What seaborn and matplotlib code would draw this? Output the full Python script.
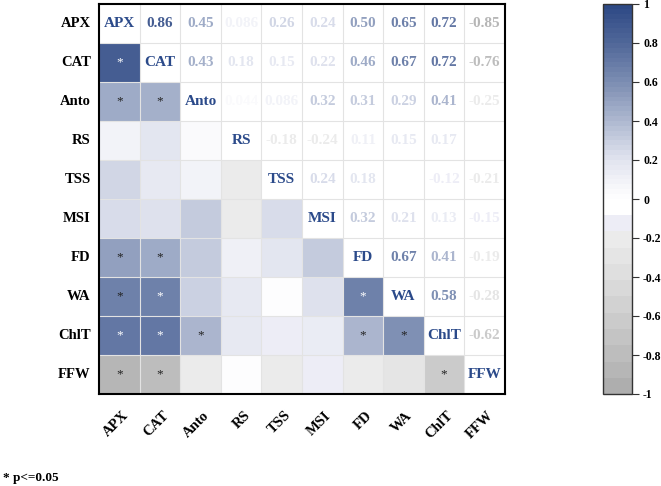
#!/usr/bin/env python3
"""
Correlation matrix (corrplot style): coloured lower triangle with
significance stars, coefficients in the upper triangle.
"""

import numpy as np
import pandas as pd
import matplotlib
matplotlib.use("Agg")
import matplotlib.pyplot as plt
import seaborn as sns
from matplotlib.colors import ListedColormap, LinearSegmentedColormap
from matplotlib.transforms import ScaledTranslation

plt.rcParams["font.family"] = ["Liberation Serif", "DejaVu Serif"]

# —————————————————————————————————————————————————————————————————————
# Data
# —————————————————————————————————————————————————————————————————————
variables = ["APX", "CAT", "Anto", "RS", "TSS", "MSI", "FD", "WA", "ChlT", "FFW"]

# upper triangle, row by row (cells right of the diagonal)
upper_rows = [
    [0.86, 0.45, 0.086, 0.26, 0.24, 0.50, 0.65, 0.72, -0.85],
    [0.43, 0.18, 0.15, 0.22, 0.46, 0.67, 0.72, -0.76],
    [0.044, 0.086, 0.32, 0.31, 0.29, 0.41, -0.25],
    [-0.18, -0.24, 0.11, 0.15, 0.17, 0.0],
    [0.24, 0.18, 0.0, -0.12, -0.21],
    [0.32, 0.21, 0.13, -0.15],
    [0.67, 0.41, -0.19],
    [0.58, -0.28],
    [-0.62],
]

# (row, column) pairs of the lower triangle with p <= 0.05
significant = [
    ("CAT", "APX"), ("Anto", "APX"), ("Anto", "CAT"),
    ("FD", "APX"), ("FD", "CAT"),
    ("WA", "APX"), ("WA", "CAT"), ("WA", "FD"),
    ("ChlT", "APX"), ("ChlT", "CAT"), ("ChlT", "Anto"), ("ChlT", "FD"), ("ChlT", "WA"),
    ("FFW", "APX"), ("FFW", "CAT"), ("FFW", "ChlT"),
]

cbar_ticks = [1, 0.8, 0.6, 0.4, 0.2, 0, -0.2, -0.4, -0.6, -0.8, -1]
cbar_ticklabels = ["1", "0.8", "0.6", "0.4", "0.2", "0", "-0.2", "-0.4", "-0.6", "-0.8", "-1"]

# —————————————————————————————————————————————————————————————————————
# Colour map: 12 grey steps below zero, 40 blue steps above
# —————————————————————————————————————————————————————————————————————
neg_steps = ["#aeaeae", "#b6b6b6", "#bdbdbd", "#c4c4c4", "#cbcbcb", "#d2d2d2",
             "#d9d9d9", "#dfdfdf", "#e5e5e5", "#ebebeb", "#ededf6", "#ffffff"]
pos_ramp = LinearSegmentedColormap.from_list(
    "pos", ["#ffffff", "#e1e4ef", "#aeb8d0", "#7c8db2", "#506799", "#2c4884"])
pos_steps = [pos_ramp((k + 0.5) / 40) for k in range(40)]
colors = [c for c in neg_steps for _ in range(10)] + [c for c in pos_steps for _ in range(3)]
cmap = ListedColormap(colors)


def fmt(v):
    return f"{v:.2g}" if abs(v) < 0.1 else f"{v:.2f}"


# build symmetric matrix
n = len(variables)
corr = np.eye(n)
for i, row in enumerate(upper_rows):
    for k, v in enumerate(row):
        j = i + 1 + k
        corr[i, j] = corr[j, i] = v
df = pd.DataFrame(corr, index=variables, columns=variables)

# —————————————————————————————————————————————————————————————————————
# Plot
# —————————————————————————————————————————————————————————————————————
fig = plt.figure(figsize=(6.61, 4.86), dpi=100)
W, H = 661, 486
ax = fig.add_axes([99 / W, 92 / H, 406 / W, 390 / H])
cax = fig.add_axes([603 / W, 92 / H, 29 / W, 390 / H])

mask = np.triu(np.ones_like(corr, dtype=bool))
sns.heatmap(df, mask=mask, cmap=cmap, vmin=-1, vmax=1, ax=ax, cbar_ax=cax,
            linewidths=0, xticklabels=variables, yticklabels=variables)

# cell grid
ax.hlines(np.arange(1, n), 0, n, colors="#e3e3e3", lw=0.8)
ax.vlines(np.arange(1, n), 0, n, colors="#e3e3e3", lw=0.8)

norm = plt.Normalize(-1, 1)
for i in range(n):
    for j in range(n):
        v = corr[i, j]
        if i == j:
            ax.text(j + 0.5, i + 0.5, variables[i], ha="center", va="center",
                    fontsize=11, fontweight="bold", color="#2b4a8a")
        elif j > i and v != 0:
            ax.text(j + 0.5, i + 0.5, fmt(v), ha="center", va="center",
                    fontsize=11, fontweight="bold", color=cmap(norm(v)))

for r, c in significant:
    i, j = variables.index(r), variables.index(c)
    star_col = "white" if corr[i, j] >= 0.66 else "#222222"
    ax.text(j + 0.5, i + 0.5, "*", ha="center", va="center",
            fontsize=9.5, color=star_col)

for s in ax.spines.values():
    s.set_visible(True)
    s.set_color("black")
    s.set_linewidth(1.5)

ax.tick_params(length=0, pad=6)
ax.set_yticklabels(variables, rotation=0, fontsize=10.5, fontweight="bold")
ax.set_xticklabels(variables, rotation=45, ha="right", va="center",
                   rotation_mode="anchor", fontsize=10.5, fontweight="bold")
offset = ScaledTranslation(5 / 72, -8 / 72, fig.dpi_scale_trans)
for lab in ax.get_xticklabels():
    lab.set_transform(lab.get_transform() + offset)

# colour bar
cbar = ax.collections[0].colorbar
cbar.outline.set_linewidth(1)
cbar.outline.set_edgecolor("#333333")
cbar.set_ticks(cbar_ticks)
cbar.set_ticklabels(cbar_ticklabels)
cax.tick_params(length=5, width=0.8, color="#333333", pad=3, labelsize=8.5)
for lab in cax.get_yticklabels():
    lab.set_fontweight("bold")

fig.text(3 / W, (H - 481) / H, "* p<=0.05", fontsize=9.5, fontweight="bold",
         va="baseline", ha="left")

fig.savefig("out.png", dpi=100)
